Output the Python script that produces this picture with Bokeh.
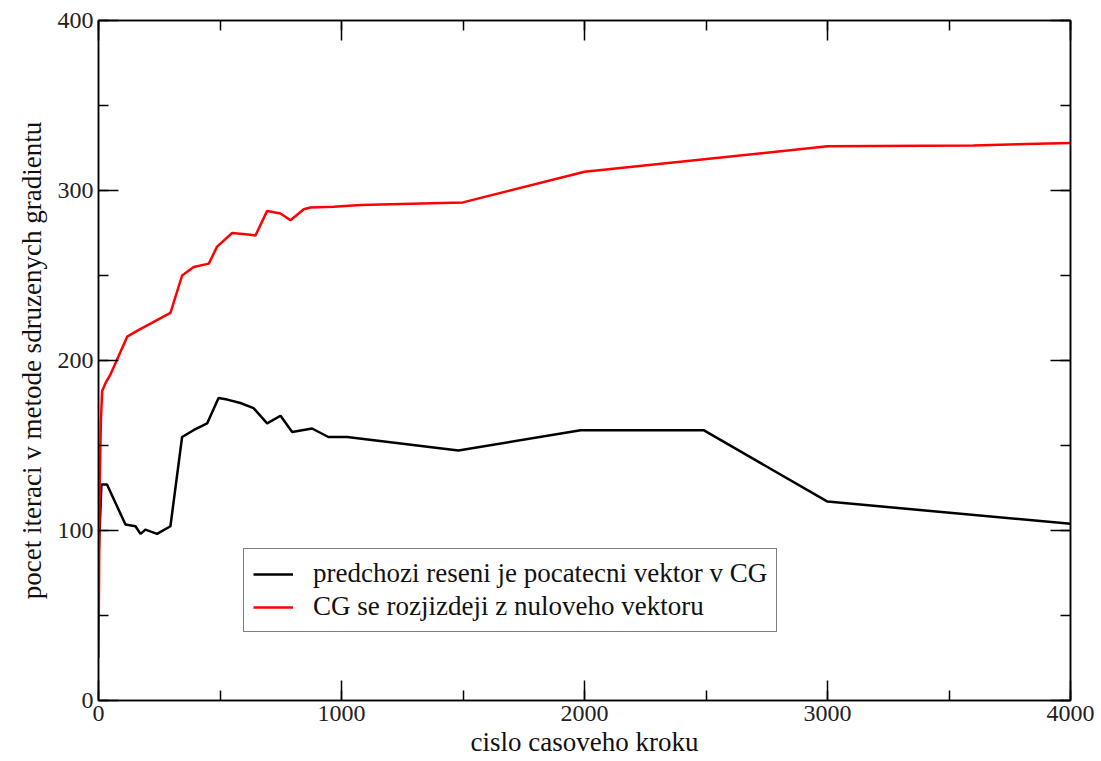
from bokeh.plotting import figure
from bokeh.models import (Range1d, LinearAxis, Legend, LegendItem, SingleIntervalTicker,
                          ColumnDataSource, CustomLabelingPolicy)
from bokeh.embed import file_html
from bokeh.resources import INLINE

# data
black_x = [0, 12, 35, 111, 152, 173, 193, 241, 296, 344, 391, 447, 494, 530, 584, 638,
           694, 749, 797, 879, 946, 1023, 1481, 1984, 2490, 3000, 4000]
black_y = [84, 127, 127, 103.5, 102.5, 98, 100.5, 98, 102.5, 155, 159, 163, 178, 177, 175, 172,
           163, 167.5, 158, 160, 155, 155, 147, 159, 159, 117, 104]

red_x = [0, 5, 10, 15, 30, 50, 118, 166, 296, 344, 392, 454, 488, 550, 625, 646,
         694, 749, 790, 845, 872, 968, 1078, 1500, 2000, 3000, 3600, 4000]
red_y = [25, 130, 165, 182, 187, 192, 214, 218, 228, 250, 255, 257, 267, 275, 274, 273.5,
         288, 286.5, 282.5, 289, 290, 290.5, 291.5, 293, 311, 326, 326.5, 328]

label_black = "predchozi reseni je pocatecni vektor v CG"
label_red = "CG se rozjizdeji z nuloveho vektoru"
x_title = "cislo casoveho kroku"
y_title = "pocet iteraci v metode sdruzenych gradientu"

FONT = "Liberation Serif"

p = figure(width=1101, height=761, output_backend="svg", toolbar_location=None,
           x_range=Range1d(0, 4000), y_range=Range1d(0, 400),
           min_border_left=98, min_border_right=31, min_border_top=20, min_border_bottom=61,
           x_axis_type=None, y_axis_type=None)
p.xgrid.visible = False
p.ygrid.visible = False
p.outline_line_color = "black"
p.outline_line_width = 1.5
p.background_fill_color = "white"
p.border_fill_color = "white"

def style_axis(ax):
    ax.major_tick_in = 20
    ax.major_tick_out = 0
    ax.minor_tick_in = 10
    ax.minor_tick_out = 0
    ax.major_tick_line_color = "black"
    ax.minor_tick_line_color = "black"
    ax.major_tick_line_width = 1.5
    ax.minor_tick_line_width = 1.5
    ax.axis_line_color = "black"
    ax.axis_line_width = 1.5
    ax.major_label_text_font = FONT
    ax.major_label_text_font_size = "24px"
    ax.major_label_text_color = "#222222"
    ax.major_label_standoff = 5
    ax.axis_label_text_font = FONT
    ax.axis_label_text_font_size = "27px"
    ax.axis_label_text_font_style = "normal"
    ax.axis_label_text_color = "#111111"

hide_labels = CustomLabelingPolicy(
    code="const a = Array.from(indices); for (const i of a) { indices.unset(i) } return indices")

xb = LinearAxis(ticker=SingleIntervalTicker(interval=1000, num_minor_ticks=2), axis_label=x_title)
style_axis(xb)
xb.axis_label_standoff = 3
p.add_layout(xb, "below")

yl = LinearAxis(ticker=SingleIntervalTicker(interval=100, num_minor_ticks=2), axis_label=y_title)
style_axis(yl)
yl.axis_label_standoff = 8
p.add_layout(yl, "left")

xa = LinearAxis(ticker=SingleIntervalTicker(interval=1000, num_minor_ticks=2),
                major_label_policy=hide_labels)
style_axis(xa)
xa.major_label_text_font_size = "1px"
xa.major_label_standoff = 0
p.add_layout(xa, "above")

yr = LinearAxis(ticker=SingleIntervalTicker(interval=100, num_minor_ticks=2),
                major_label_policy=hide_labels)
style_axis(yr)
yr.major_label_text_font_size = "1px"
yr.major_label_standoff = 0
p.add_layout(yr, "right")

src_b = ColumnDataSource(dict(x=black_x, y=black_y))
src_r = ColumnDataSource(dict(x=red_x, y=red_y))
rb = p.line("x", "y", source=src_b, line_color="black", line_width=2.5)
rr = p.line("x", "y", source=src_r, line_color="#ff0000", line_width=2.5)

legend = Legend(items=[LegendItem(label=label_black, renderers=[rb]),
                       LegendItem(label=label_red, renderers=[rr])],
                location=(145, 68))
legend.label_text_font = FONT
legend.label_text_font_size = "27px"
legend.label_text_color = "#111111"
legend.glyph_width = 40
legend.glyph_height = 26
legend.label_height = 26
legend.label_standoff = 20
legend.spacing = 2
legend.padding = 9
legend.margin = 0
legend.border_line_color = "black"
legend.border_line_width = 1.5
legend.background_fill_color = "white"
legend.background_fill_alpha = 1.0
p.add_layout(legend, "center")

open("out.html", "w").write(file_html(p, INLINE))
